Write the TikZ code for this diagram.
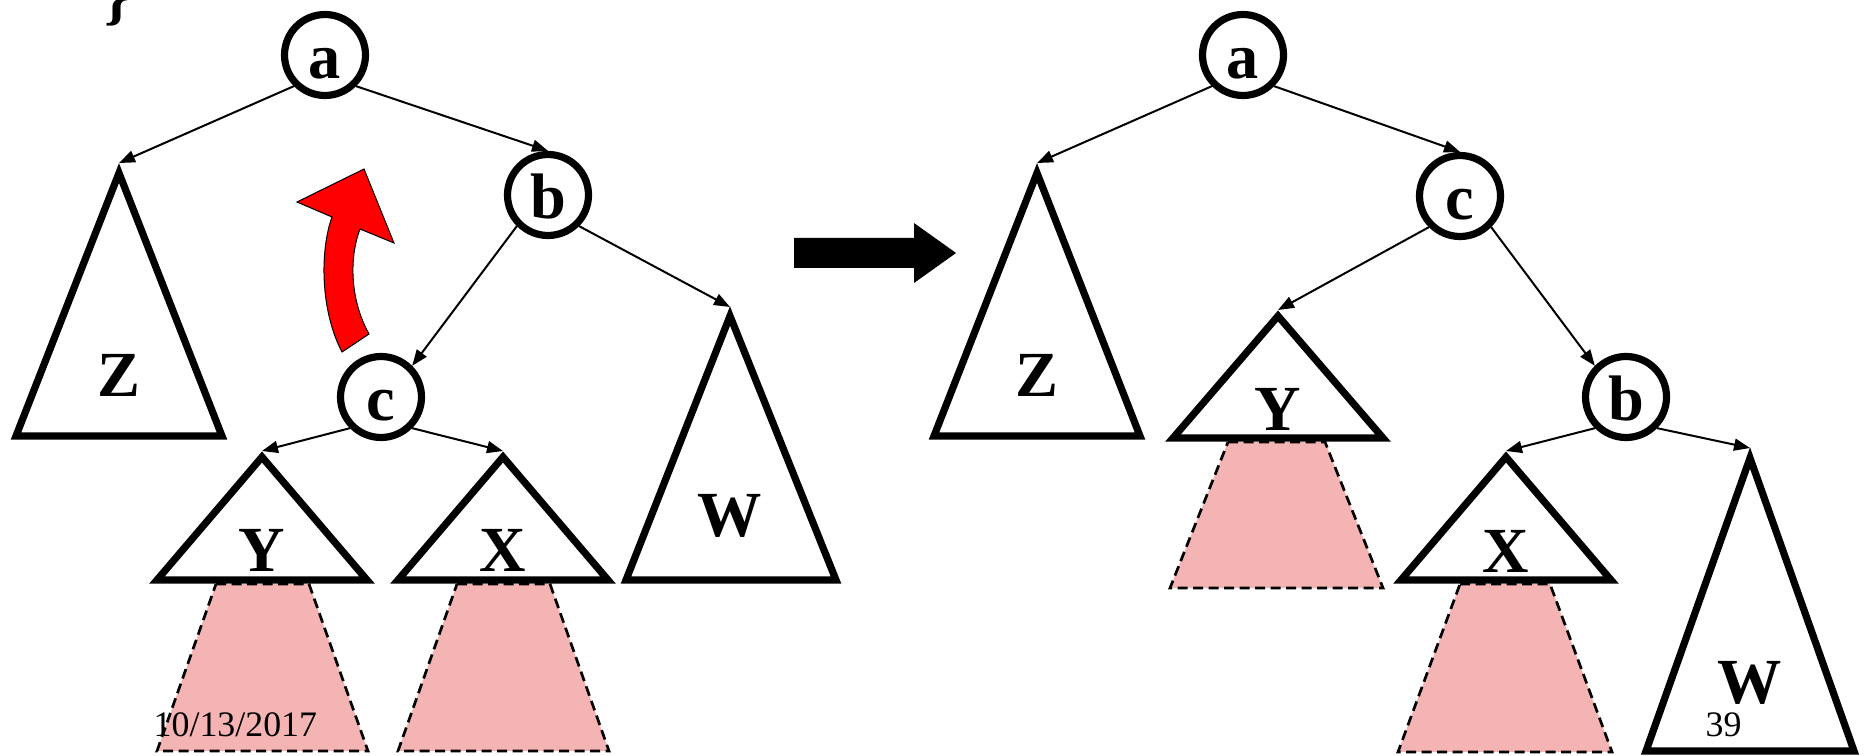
\documentclass[tikz,border=0pt]{standalone}
\usepackage{fontspec}
\setmainfont{Liberation Serif}
\usetikzlibrary{arrows.meta}
\definecolor{pinkfill}{RGB}{244,180,180}
\definecolor{arrred}{RGB}{255,0,0}
\begin{document}
\begin{tikzpicture}[x=0.1mm,y=-0.1mm,
  tri/.style={draw, line width=0.72mm, fill=white, line join=miter},
  trap/.style={fill=pinkfill, draw, dash pattern=on 1mm off 0.55mm, line width=0.27mm},
  nodecirc/.style={circle, draw, line width=0.72mm, minimum size=8.1mm, inner sep=0pt, fill=white,
    font=\fontsize{18.3}{20}\selectfont\bfseries, text height=4.8mm, text depth=0pt},
  lbl/.style={anchor=base, font=\fontsize{18.3}{20}\selectfont\bfseries, inner sep=0pt},
  conn/.style={-{Triangle[length=1.6mm,width=1.2mm]}, line width=0.2mm},
  small/.style={anchor=base west, font=\fontsize{10.2}{12}\selectfont, inner sep=0pt}]
\useasboundingbox (0,0) rectangle (1864,756);

% stray glyph at top
\node[font=\fontsize{18.3}{20}\selectfont\bfseries, anchor=south, inner sep=0pt] (brace) at (117,27) {\}};

% ---------- pink subtrees (left) ----------
\draw[trap] (216,584) -- (309,584) -- (368,751) -- (157,751) -- cycle;
\draw[trap] (457,584) -- (550,584) -- (609,751) -- (398,751) -- cycle;
% ---------- pink subtrees (right) ----------
\draw[trap] (1228,442) -- (1325,442) -- (1383,588) -- (1170,588) -- cycle;
\draw[trap] (1460,584) -- (1550,584) -- (1612,752) -- (1398,752) -- cycle;

% ---------- triangles (left) ----------
\draw[tri] (119,173) -- (222,436) -- (16,436) -- cycle;
\draw[tri] (262,457) -- (367,580) -- (157,580) -- cycle;
\draw[tri] (503,457) -- (608,580) -- (398,580) -- cycle;
\draw[tri] (730,316) -- (836,580) -- (626,580) -- cycle;
% ---------- triangles (right) ----------
\draw[tri] (1037,173) -- (1140,436) -- (934,436) -- cycle;
\draw[tri] (1278,316) -- (1383,438) -- (1173,438) -- cycle;
\draw[tri] (1506,457) -- (1611,580) -- (1401,580) -- cycle;
\draw[tri] (1750,458) -- (1854,751) -- (1646,751) -- cycle;

% apex coordinates (arrow targets)
\coordinate (LZt) at (119,163);
\coordinate (LYt) at (262,451);
\coordinate (LXt) at (503,451);
\coordinate (LWt) at (730,307);
\coordinate (RZt) at (1037,163);
\coordinate (RYt) at (1278,310);
\coordinate (RXt) at (1506,451);
\coordinate (RWt) at (1750,448);

% ---------- circles ----------
\node[nodecirc] (La) at (325,55) {a};
\node[nodecirc] (Lb) at (548,195) {b};
\node[nodecirc] (Lc) at (381,397) {c};
\node[nodecirc] (Ra) at (1243,55) {a};
\node[nodecirc] (Rc) at (1460,196) {c};
\node[nodecirc] (Rb) at (1626,397) {b};

% ---------- connectors (left) ----------
\draw[conn] (La.south west) -- (LZt);
\draw[conn] (La.south east) -- (Lb.north);
\draw[conn] (Lb.south west) -- (Lc.north east);
\draw[conn] (Lb.south east) -- (LWt);
\draw[conn] (Lc.south west) -- (LYt);
\draw[conn] (Lc.south east) -- (LXt);
% ---------- connectors (right) ----------
\draw[conn] (Ra.south west) -- (RZt);
\draw[conn] (Ra.south east) -- (Rc.north);
\draw[conn] (Rc.south west) -- (RYt);
\draw[conn] (Rc.south east) -- (Rb.north west);
\draw[conn] (Rb.south west) -- (RXt);
\draw[conn] (Rb.south east) -- (RWt);

% ---------- subtree labels ----------
\node[lbl] (lZ) at (119,396) {Z};
\node[lbl] (lY) at (262,571) {Y};
\node[lbl] (lX) at (503,571) {X};
\node[lbl] (lW) at (730,536) {W};
\node[lbl] (rZ) at (1037,396) {Z};
\node[lbl] (rY) at (1278,430) {Y};
\node[lbl] (rX) at (1506,572) {X};
\node[lbl] (rW) at (1750,703) {W};

% ---------- red rotation arrow ----------
\draw[fill=arrred, line width=0.1mm, line join=miter]
  (364,169) -- (394,243) -- (360,229)
  .. controls (349,258) and (350,300) .. (369,334)
  -- (342,352)
  .. controls (320,310) and (320,250) .. (332,217)
  -- (297,202) -- cycle;

% ---------- black transform arrow ----------
\fill (794,238) -- (914,238) -- (914,223) -- (956,253) -- (914,283) -- (914,268) -- (794,268) -- cycle;

% ---------- footer texts ----------
\node[small] (date) at (153,736) {10/13/2017};
\node[small] (page) at (1705,736) {39};
\end{tikzpicture}
\end{document}
